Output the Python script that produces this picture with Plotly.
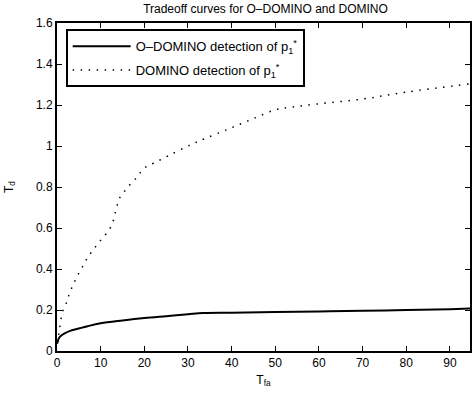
import plotly.graph_objects as go

# O-DOMINO tradeoff curve
odomino_tfa = [0, 0.2, 0.5, 1, 1.75, 3, 5.2, 7, 10, 15, 20, 25, 30, 33.5, 40, 50, 60, 70, 80, 90, 94.6]
odomino_td = [0.035, 0.05, 0.065, 0.076, 0.086, 0.098, 0.111, 0.121, 0.135, 0.149, 0.161, 0.17, 0.179, 0.185, 0.187, 0.19, 0.193, 0.196, 0.2, 0.204, 0.207]

# DOMINO tradeoff curve
domino_tfa = [0.1, 0.4, 0.8, 1.4, 2.2, 2.8, 3.5, 4.3, 5.2, 6.2, 7.1, 8.3, 9.4, 10.7, 11.8, 12.7,
              13.2, 13.7, 14.2, 15.3, 16.5, 17.9, 19.1, 20.4, 22.1, 25.5, 30.6, 34.1, 39.4, 44.7,
              50.1, 53.9, 59.6, 70, 80, 94.6]
domino_td = [0.04, 0.08, 0.14, 0.2, 0.237, 0.277, 0.314, 0.351, 0.387, 0.424, 0.46, 0.493, 0.525, 0.557, 0.587, 0.623,
             0.663, 0.704, 0.741, 0.774, 0.806, 0.838, 0.871, 0.898, 0.916, 0.952, 1.006, 1.038, 1.084, 1.131,
             1.177, 1.19, 1.205, 1.229, 1.263, 1.303]

x_ticks = [0, 10, 20, 30, 40, 50, 60, 70, 80, 90]
y_ticks = [0, 0.2, 0.4, 0.6, 0.8, 1.0, 1.2, 1.4, 1.6]
y_ticklabels = ["0", "0.2", "0.4", "0.6", "0.8", "1", "1.2", "1.4", "1.6"]

FONT = "Liberation Sans, Arial, Helvetica, sans-serif"

fig = go.Figure()
fig.add_trace(go.Scatter(
    x=odomino_tfa, y=odomino_td, mode="lines", line_shape="spline",
    line=dict(color="black", width=2), legendgroup="a",
    name="O–DOMINO detection of p<sub>1</sub><sup>*</sup>",
))
fig.add_trace(go.Scatter(
    x=domino_tfa, y=domino_td, mode="lines", line_shape="spline",
    line=dict(color="black", width=1.5, dash="1.5px,6.5px"), legendgroup="b",
    name="DOMINO detection of p<sub>1</sub><sup>*</sup>",
))

fig.update_layout(
    width=472, height=401,
    margin=dict(l=57, r=0, t=23, b=50),
    paper_bgcolor="white", plot_bgcolor="white",
    font=dict(family=FONT, size=12, color="black"),
    title=dict(text="Tradeoff curves for O–DOMINO and DOMINO", x=0.5625, xanchor="center",
               y=0.977, yanchor="middle", font=dict(size=12)),
    showlegend=True,
    legend=dict(x=0.021, y=0.981, xanchor="left", yanchor="top",
                bgcolor="white", bordercolor="black", borderwidth=2,
                font=dict(size=13), tracegroupgap=4, itemwidth=58),
)
fig.update_xaxes(
    range=[0, 94.6], tickvals=x_ticks, ticks="inside", ticklen=5, tickwidth=1,
    tickcolor="black", showline=True, linecolor="black", linewidth=2, mirror="allticks",
    showgrid=False, zeroline=False, tickfont=dict(size=12),
    title=dict(text="T<sub>fa</sub>", standoff=6, font=dict(size=12)),
)
fig.update_yaxes(
    range=[0, 1.6], tickvals=y_ticks, ticktext=y_ticklabels, ticks="inside", ticklen=5, tickwidth=1,
    tickcolor="black", showline=True, linecolor="black", linewidth=2, mirror="allticks",
    showgrid=False, zeroline=False, tickfont=dict(size=12),
    title=dict(text="T<sub>d</sub>", standoff=20, font=dict(size=12)),
)

fig.write_html("out.html")
